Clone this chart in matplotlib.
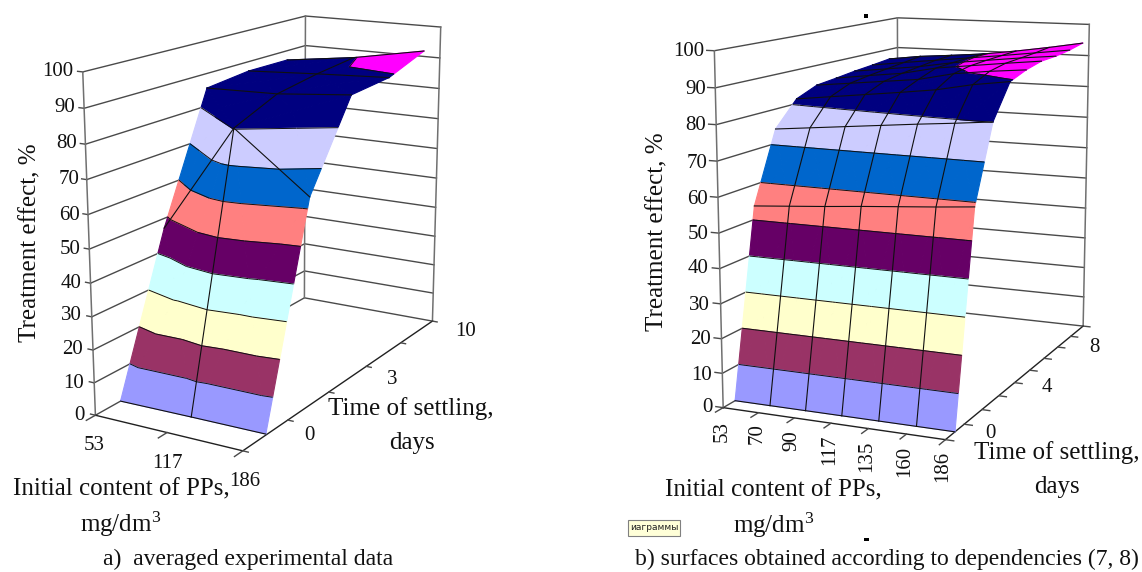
import numpy as np
import matplotlib
matplotlib.use('Agg')
import matplotlib.pyplot as plt
from matplotlib.patches import Rectangle
from mpl_toolkits.mplot3d.art3d import Poly3DCollection, Line3DCollection

plt.rcParams['font.family'] = ['Liberation Serif']
plt.rcParams['mathtext.default'] = 'regular'

# (a) averaged experimental data
content_a = ['53', '117', '186']
time_a = ['0', '', '3', '', '10']
effect_a = [[0.0, 0.2, 0.3],
            [47.0, 80.3, 63.2],
            [85.5, 86.1, 88.2],
            [87.0, 88.3, 89.4],
            [86.9, 89.8, 94.0]]

# (b) surfaces obtained according to dependencies
content_b = ['53', '70', '90', '117', '135', '160', '186']
time_b = ['0', '', '', '', '4', '', '', '', '8']
effect_b = [[0.0, 0.0, 0.0, 0.0, 0.0, 0.0, 0.0],
            [53.9, 54.7, 55.5, 56.4, 57.2, 58.0, 58.9],
            [74.2, 75.2, 76.2, 77.2, 78.2, 79.1, 80.1],
            [81.4, 82.6, 83.8, 85.0, 86.3, 88.3, 89.7],
            [84.0, 85.1, 86.2, 87.3, 89.5, 90.7, 91.6],
            [84.7, 86.0, 87.2, 89.3, 90.5, 91.7, 92.8],
            [85.5, 86.7, 87.9, 89.6, 90.8, 92.0, 93.0],
            [86.1, 87.4, 88.6, 89.8, 91.0, 92.3, 93.6],
            [86.8, 88.1, 88.9, 89.8, 91.2, 92.8, 94.6]]

effect_ticks = list(range(0, 101, 10))
band_colors = ['#9999FF', '#993366', '#FFFFCC', '#CCFFFF', '#660066',
               '#FF8080', '#0066CC', '#CCCCFF', '#000080', '#FF00FF']

W, H = 1142, 572
GRID = '#4a4a4a'


def fit_proj(corners, nx, nt):
    # camera matrix from the box corners on the page, then rescaled to data units
    rows = []
    for (X, Y, Z), (u, v) in corners:
        rows.append([X, Y, Z, 1, 0, 0, 0, 0, -u * X, -u * Y, -u * Z, -u])
        rows.append([0, 0, 0, 0, X, Y, Z, 1, -v * X, -v * Y, -v * Z, -v])
    P = np.linalg.svd(np.array(rows, float))[2][-1].reshape(3, 4)
    S = np.array([[1 / (nx - 1), 0, 0, 0], [0, 1 / nt, 0, .5 / nt], [0, 0, .01, 0], [0, 0, 0, 1]])
    P = P @ S
    depth = [-.24 / (nx - 1) * P[2, 3], .76 / nt * P[2, 3], 1e-4 * P[2, 3], 0]
    return np.array([P[0], P[1], depth, P[2]])


def clip(poly, level, above):
    out = []
    for a, b in zip(poly, poly[1:] + poly[:1]):
        ina = a[2] >= level if above else a[2] <= level
        inb = b[2] >= level if above else b[2] <= level
        if ina:
            out.append(a)
        if ina != inb:
            f = (level - a[2]) / (b[2] - a[2])
            out.append(tuple(p + f * (q - p) for p, q in zip(a, b)))
    return out


def surface_parts(Z):
    polys, colors, segs = [], [], []
    for r in range(Z.shape[0] - 1):
        for c in range(Z.shape[1] - 1):
            corners = [(c, r, Z[r, c]), (c + 1, r, Z[r, c + 1]), (c + 1, r + 1, Z[r + 1, c + 1]), (c, r + 1, Z[r + 1, c])]
            zs = [p[2] for p in corners]
            # the cell folds differently on the first row than above it
            zmid = np.mean(zs) if r == 0 else max(zs[0] + zs[2], zs[1] + zs[3]) / 2
            mid = (c + .5, r + .5, zmid)
            for i in range(4):
                tri = [corners[i], corners[(i + 1) % 4], mid]
                for b, col in enumerate(band_colors):
                    part = clip(tri, b * 10, True)
                    part = clip(part, (b + 1) * 10, False) if part else part
                    if len(part) >= 3:
                        polys.append(part)
                        colors.append(col)
                for level in effect_ticks[1:-1]:
                    pts = [p for p in clip(tri, level, True) if abs(p[2] - level) < 1e-9]
                    if len(pts) == 2:
                        segs.append(pts)
    return polys, colors, segs


def draw_panel(fig, corners, Z):
    Z = np.array(Z)
    nt, nx = Z.shape
    M = fit_proj(corners, nx, nt)
    ax = fig.add_axes([0, 0, 1, 1], projection='3d')
    ax.set_proj_type('ortho')
    ax.set_axis_off()
    ax.patch.set_visible(False)
    ax.computed_zorder = False
    ax.apply_aspect = lambda position=None: None
    ax.get_proj = lambda: M
    ax.viewLim.intervalx = (0, W)
    ax.viewLim.intervaly = (H, 0)

    xm, t0, t1 = nx - 1, -.5, nt - .5
    for z in effect_ticks:
        ax.plot([0, 0, xm], [t0, t1, t1], [z, z, z], color=GRID, lw=1, zorder=1)
        ax.plot([-.035 * xm, 0], [t0, t0], [z, z], color=GRID, lw=1, zorder=1)
    for x, t in [(0, t0), (0, t1), (xm, t1)]:
        ax.plot([x, x], [t, t], [0, 100], color='#707070', lw=1.1, zorder=1)
    ax.plot([0, xm, xm], [t0, t0, t1], [0, 0, 0], color='#202020', lw=1, zorder=1)
    for x in range(nx):
        ax.plot([x, x], [t0, t0 - .035 * nt], [0, 0], color=GRID, lw=1, zorder=1)
    for t in np.arange(nt + 1) - .5:
        ax.plot([xm, xm * 1.035], [t, t], [0, 0], color=GRID, lw=1, zorder=1)

    polys, colors, segs = surface_parts(Z)
    ax.add_collection3d(Poly3DCollection(polys, facecolors=colors, edgecolors=colors, linewidths=.8, zorder=2))
    ax.add_collection3d(Line3DCollection(segs, colors='#101010', linewidths=.7, zorder=3))
    for r in range(nt):
        ax.plot(range(nx), [r] * nx, Z[r], color='#101010', lw=.8, zorder=4)
    for c in range(1, nx - 1):
        ax.plot([c] * nt, range(nt), Z[:, c], color='#101010', lw=.8, zorder=4)
    return ax


def txt(fig, x, y, s, size=15, ha='center', va='center', **kw):
    fig.text(x / W, 1 - y / H, s, fontsize=size, ha=ha, va=va, color='#111111', **kw)


fig = plt.figure(figsize=(W / 100, H / 100), dpi=100)

draw_panel(fig, [((0, 0, 0), (95, 415)), ((1, 0, 0), (243, 451)), ((1, 1, 0), (432, 321)), ((0, 1, 0), (305, 298)),
                 ((0, 0, 1), (83, 72)), ((0, 1, 1), (305, 16)), ((1, 1, 1), (441, 27))], effect_a)
draw_panel(fig, [((0, 0, 0), (723, 408)), ((1, 0, 0), (946, 439)), ((1, 1, 0), (1083, 327)), ((0, 1, 0), (898, 305)),
                 ((0, 0, 1), (714, 51)), ((0, 1, 1), (898, 18)), ((1, 1, 1), (1089, 24))], effect_b)

# effect tick labels
for z, x, y in zip(effect_ticks, [85, 84, 83, 82, 82, 81, 80, 79, 77, 75, 73], [415, 383, 350, 316, 284, 249, 215, 180, 144, 107, 72]):
    txt(fig, x, y, str(z), ha='right')
for z, x, y in zip(effect_ticks, [713, 712, 711, 710, 709, 709, 708, 707, 706, 706, 704], [408, 375, 340, 305, 269, 234, 199, 163, 126, 89, 52]):
    txt(fig, x, y, str(z), ha='right')

# category labels
for s, x, y in zip(content_a, [94, 167, 245], [446, 464, 482]):
    txt(fig, x, y, s)
for s, x, y in zip([t for t in time_a if t], [309, 392, 466], [435, 379, 332]):
    txt(fig, x, y, s)
for s, x, y in zip(content_b, [722, 757, 792, 830, 867, 905, 943], [431, 434, 441, 450, 456, 461, 466]):
    txt(fig, x, y, s, rotation=90)
for s, x, y in zip([t for t in time_b if t], [990, 1047, 1094], [434, 387, 348]):
    txt(fig, x, y, s)

# axis titles
txt(fig, 30, 243, 'Treatment effect, %', size=18, rotation=90)
txt(fig, 411, 409, 'Time of settling,', size=18)
txt(fig, 412, 443, 'days', size=18)
txt(fig, 121, 489, 'Initial content of PPs,', size=18)
txt(fig, 121, 524, 'mg/dm$^3$', size=18)
txt(fig, 657, 232, 'Treatment effect, %', size=18, rotation=90)
txt(fig, 1057, 453, 'Time of settling,', size=18)
txt(fig, 1057, 487, 'days', size=18)
txt(fig, 773, 490, 'Initial content of PPs,', size=18)
txt(fig, 774, 525, 'mg/dm$^3$', size=18)

# captions
txt(fig, 248, 559, 'a)  averaged experimental data', size=17)
txt(fig, 887, 559, 'b) surfaces obtained according to dependencies (7, 8)', size=17)

# leftovers of the screenshot
for x, y, w, h in [(864, 14, 4, 4), (864, 538, 5, 3)]:
    fig.add_artist(Rectangle((x / W, 1 - (y + h) / H), w / W, h / H, transform=fig.transFigure, color='black', lw=0))
fig.add_artist(Rectangle((628 / W, 1 - 536 / H), 52 / W, 16 / H, transform=fig.transFigure, fc='#FFFFD8', ec='#808080', lw=.8))
fig.text(654 / W, 1 - 528 / H, 'иаграммы', fontsize=6.5, family='DejaVu Sans', ha='center', va='center', color='#222222')

fig.savefig('out.png', dpi=100)
